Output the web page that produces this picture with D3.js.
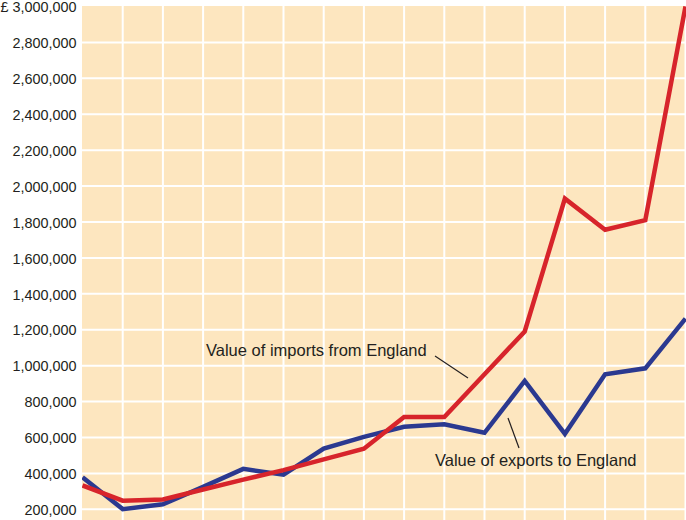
<!DOCTYPE html>
<html>
<head>
<meta charset="utf-8">
<script src="https://cdn.jsdelivr.net/npm/d3@7"></script>
<style>
  html, body { margin: 0; padding: 0; background: #ffffff; }
  svg { display: block; }
  text { font-family: "Liberation Sans", Arial, Helvetica, sans-serif; fill: #231f20; }
</style>
</head>
<body>
<svg id="chart" width="686" height="520"></svg>
<script>
// Data (x axis periods are unlabelled in the original)
const periods = d3.range(16);
const importsFromEngland = [333000, 248000, 255000, 310000, 365000, 418000, 478000, 537000, 714000, 714000, 952000, 1190000, 1930000, 1757000, 1810000, 3000000];
const exportsToEngland   = [378000, 201000, 228000, 325000, 425000, 393000, 538000, 603000, 660000, 674000, 626000, 915000, 620000, 952000, 985000, 1262000];
const yTicks = [200000, 400000, 600000, 800000, 1000000, 1200000, 1400000, 1600000, 1800000, 2000000, 2200000, 2400000, 2600000, 2800000, 3000000];

const svg = d3.select("#chart");
const W = 686, H = 520;
const plot = { left: 82, top: 6, right: 686, bottom: 520 };

const x = d3.scaleLinear().domain([0, 15]).range([82.5, 685.5]);
const y = d3.scaleLinear().domain([200000, 3000000]).range([509.3, 6.5]);

// background
svg.append("rect")
  .attr("x", plot.left).attr("y", plot.top)
  .attr("width", plot.right - plot.left).attr("height", plot.bottom - plot.top)
  .attr("fill", "#fde6bf");

svg.append("clipPath").attr("id", "clip")
  .append("rect")
  .attr("x", plot.left).attr("y", plot.top - 2)
  .attr("width", plot.right - plot.left).attr("height", plot.bottom - plot.top + 2);

const g = svg.append("g").attr("clip-path", "url(#clip)");

// horizontal grid
g.selectAll("line.h").data(yTicks.slice(0, -1).concat([100000]))
  .join("line").attr("class", "h")
  .attr("x1", plot.left).attr("x2", plot.right)
  .attr("y1", d => y(d)).attr("y2", d => y(d))
  .attr("stroke", "#ffffff").attr("stroke-width", 2);

// vertical grid
g.selectAll("line.v").data(periods.slice(1))
  .join("line").attr("class", "v")
  .attr("x1", d => x(d)).attr("x2", d => x(d))
  .attr("y1", plot.top).attr("y2", plot.bottom)
  .attr("stroke", "#ffffff").attr("stroke-width", 2);

// y axis labels
const yAxis = d3.axisLeft(y).tickValues(yTicks).tickSize(0).tickPadding(0)
  .tickFormat(d => (d === 3000000 ? "£ " : "") + d3.format(",")(d));
const ya = svg.append("g").attr("transform", "translate(76.5,0)").call(yAxis);
ya.select(".domain").remove();
ya.selectAll("text")
  .attr("font-size", "14.4px")
  .attr("font-family", "'Liberation Sans', Arial, sans-serif")
  .attr("fill", "#231f20")
  .attr("dy", "0.36em");

// lines
const line = d3.line().x((d, i) => x(periods[i])).y(d => y(d)).curve(d3.curveLinear);

g.append("path").datum(exportsToEngland)
  .attr("d", line).attr("fill", "none")
  .attr("stroke", "#2b3990").attr("stroke-width", 4.5)
  .attr("stroke-linejoin", "miter");

g.append("path").datum(importsFromEngland)
  .attr("d", line).attr("fill", "none")
  .attr("stroke", "#d7242b").attr("stroke-width", 4.5)
  .attr("stroke-linejoin", "miter");

// annotations
svg.append("text").attr("x", 206).attr("y", 355.5)
  .attr("font-size", "16.5px").text("Value of imports from England");
svg.append("line").attr("x1", 435).attr("y1", 356).attr("x2", 468).attr("y2", 378)
  .attr("stroke", "#231f20").attr("stroke-width", 1.2);

svg.append("text").attr("x", 435).attr("y", 465.5)
  .attr("font-size", "16.5px").text("Value of exports to England");
svg.append("line").attr("x1", 508).attr("y1", 418).attr("x2", 519).attr("y2", 448)
  .attr("stroke", "#231f20").attr("stroke-width", 1.2);
</script>
</body>
</html>
